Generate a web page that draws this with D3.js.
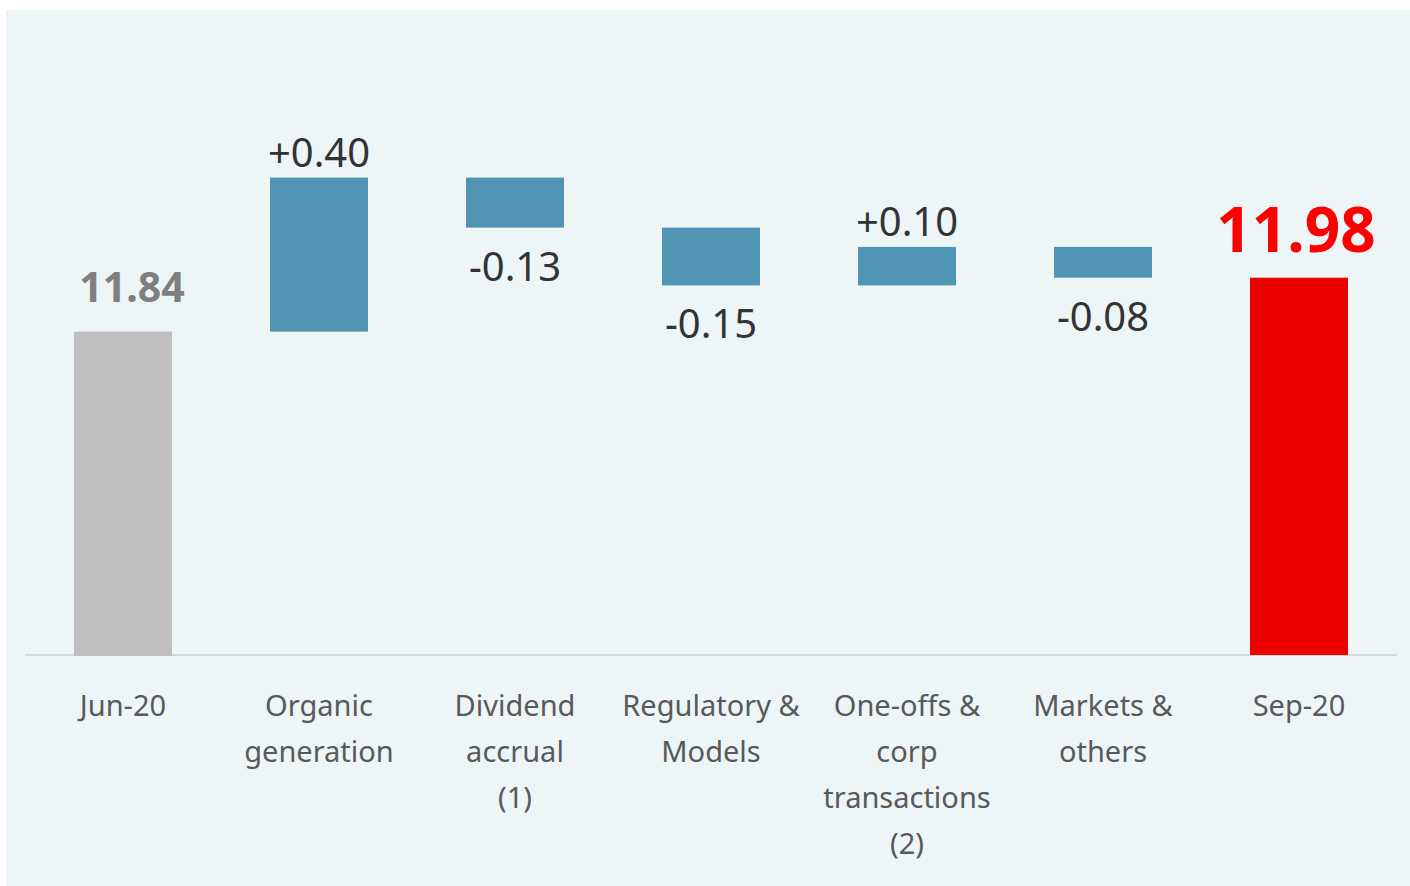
<!DOCTYPE html>
<html>
<head>
<meta charset="utf-8">
<script src="https://cdn.jsdelivr.net/npm/d3@7"></script>
<style>
    body { margin: 0; background: #ffffff; }
    svg { display: block; font-family: "Noto Sans", "Open Sans", sans-serif; }
</style>
</head>
<body>
<script>
(function(){

    //chart data
    var categories = ["Jun-20", "Organic generation", "Dividend accrual (1)", "Regulatory & Models", "One-offs & corp transactions (2)", "Markets & others", "Sep-20"];
    var categoryLines = [["Jun-20"], ["Organic", "generation"], ["Dividend", "accrual", "(1)"], ["Regulatory &", "Models"], ["One-offs &", "corp", "transactions", "(2)"], ["Markets &", "others"], ["Sep-20"]];
    var changes = [11.84, 0.40, -0.13, -0.15, 0.10, -0.08, 11.98];
    var labels = ["11.84", "+0.40", "-0.13", "-0.15", "+0.10", "-0.08", "11.98"];
    var kinds = ["start", "step", "step", "step", "step", "step", "end"];

    var width = 1410, height = 886;

    var svg = d3.select("body").append("svg")
        .attr("width", width)
        .attr("height", height);

    //panel background
    svg.append("rect")
        .attr("x", 6).attr("y", 10)
        .attr("width", width - 6).attr("height", height - 10)
        .attr("fill", "#edf5f7");

    //build waterfall rows
    var running = 0;
    var rows = categories.map(function(c, i){
        var v = changes[i], lo, hi;
        if (kinds[i] == "step"){
            lo = Math.min(running, running + v);
            hi = Math.max(running, running + v);
            running += v;
        } else {
            lo = null; hi = v; running = v;
        }
        return {cat: c, lines: categoryLines[i], value: v, label: labels[i], kind: kinds[i], lo: lo, hi: hi};
    });

    var x = d3.scaleBand()
        .domain(categories)
        .range([25, 1397])
        .paddingInner(0.5)
        .paddingOuter(0.25);

    var y = d3.scaleLinear()
        .domain([11.0, 12.5])
        .range([655, 655 - 1.5 * 385]);

    //axis baseline
    svg.append("line")
        .attr("x1", 25).attr("x2", 1397)
        .attr("y1", y(11.0)).attr("y2", y(11.0))
        .attr("stroke", "#d9d9d9")
        .attr("stroke-width", 2);

    //bars
    svg.selectAll(".bar")
        .data(rows)
        .enter()
        .append("rect")
        .attr("class", "bar")
        .attr("x", function(d){ return x(d.cat); })
        .attr("width", x.bandwidth())
        .attr("y", function(d){ return y(d.hi); })
        .attr("height", function(d){
            var base = d.lo === null ? y(11.0) + (d.kind == "start" ? 1 : 0) : y(d.lo);
            return base - y(d.hi);
        })
        .attr("fill", function(d){
            if (d.kind == "start") return "#bfbfbf";
            if (d.kind == "end") return "#ec0000";
            return "#4f94b2";
        });

    //value labels
    svg.selectAll(".valueLabel")
        .data(rows)
        .enter()
        .append("text")
        .attr("class", "valueLabel")
        .attr("text-anchor", "middle")
        .attr("x", function(d){ return x(d.cat) + x.bandwidth() / 2 + (d.kind == "start" ? 9 : (d.kind == "end" ? -3 : 0)); })
        .attr("y", function(d){
            if (d.kind == "start") return y(d.hi) - 30;
            if (d.kind == "end") return y(d.hi) - 26;
            if (d.value >= 0) return y(d.hi) - 11;
            return y(d.lo) + 53;
        })
        .attr("font-size", function(d){
            if (d.kind == "end") return 62;
            if (d.kind == "start") return 41;
            return 40;
        })
        .attr("font-weight", function(d){ return d.kind == "step" ? "normal" : "bold"; })
        .attr("fill", function(d){
            if (d.kind == "start") return "#7f7f7f";
            if (d.kind == "end") return "#ff0000";
            return "#333333";
        })
        .text(function(d){ return d.label; });

    //category labels
    var cat = svg.selectAll(".catLabel")
        .data(rows)
        .enter()
        .append("text")
        .attr("class", "catLabel")
        .attr("text-anchor", "middle")
        .attr("font-size", 29)
        .attr("fill", "#595959");

    cat.selectAll("tspan")
        .data(function(d){ return d.lines.map(function(l){ return {t: l, cx: x(d.cat) + x.bandwidth() / 2}; }); })
        .enter()
        .append("tspan")
        .attr("x", function(d){ return d.cx; })
        .attr("y", function(d, i){ return 716 + i * 46; })
        .text(function(d){ return d.t; });

})();
</script>
</body>
</html>
